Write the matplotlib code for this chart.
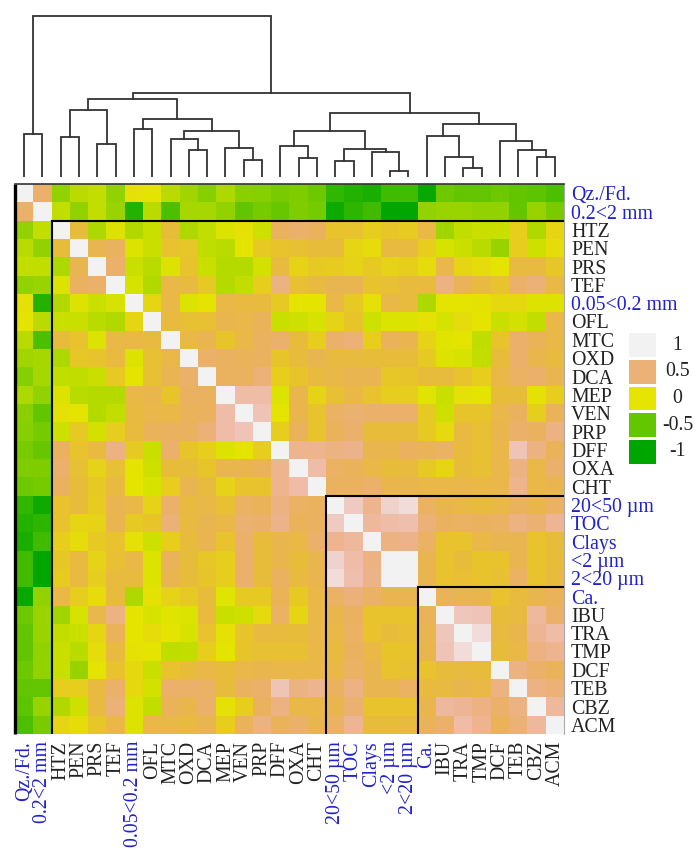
import matplotlib
matplotlib.use('Agg')
import matplotlib.pyplot as plt
from matplotlib.colors import LinearSegmentedColormap, hsv_to_rgb
import numpy as np

labels = ['Qz./Fd.', '0.2<2 mm', 'HTZ', 'PEN', 'PRS', 'TEF', '0.05<0.2 mm', 'OFL', 'MTC', 'OXD',
          'DCA', 'MEP', 'VEN', 'PRP', 'DFF', 'OXA', 'CHT', '20<50 µm', 'TOC', 'Clays',
          '<2 µm', '2<20 µm', 'Ca.', 'IBU', 'TRA', 'TMP', 'DCF', 'TEB', 'CBZ', 'ACM']
blue_labels = ['Qz./Fd.', '0.2<2 mm', '0.05<0.2 mm', '20<50 µm', 'TOC', 'Clays', '<2 µm', '2<20 µm', 'Ca.']

# upper triangle of the correlation matrix, each row starts right after the diagonal
upper = [
    [.45, -.3, -.15, -.12, -.3, .03, 0, -.15, -.25, -.35, -.2, -.33, -.35, -.4, -.38, -.45, -.72, -.8, -.85, -.65, -.65, -.95, -.45, -.5, -.5, -.45, -.5, -.52, -.6],
    [-.12, -.3, -.12, -.27, -.8, -.15, -.6, -.22, -.22, -.3, -.5, -.42, -.48, -.38, -.42, -.92, -.75, -.65, -.98, -.98, -.3, -.27, -.27, -.3, -.3, -.5, -.28, -.4],
    [.25, -.2, -.03, -.18, -.1, .25, -.2, -.12, -.03, .03, -.08, .4, .45, .4, .2, .2, .12, .17, .14, .3, -.25, -.12, -.1, -.1, .12, -.18, .08],
    [.35, .4, -.03, -.1, .2, .17, -.13, -.15, 0, .15, .2, .22, .25, .25, .08, .05, .28, .28, .13, -.05, -.1, -.15, -.28, .13, -.08, .05],
    [.45, -.1, -.15, -.03, .2, -.1, -.17, -.17, -.06, .28, .1, .15, .14, .1, .15, .1, .12, .05, .32, .08, .05, 0, .28, .28, .17],
    [-.05, -.18, .3, .28, .15, -.17, -.12, .13, .55, .22, .28, .35, .35, .2, .22, .27, .27, .55, .38, .28, .2, .45, .5, .3],
    [.08, .3, -.03, 0, .3, .28, .27, .15, 0, 0, .3, .15, .03, .3, .27, -.2, 0, 0, .02, .07, .07, -.03, -.03],
    [.28, .22, .22, .33, .32, .38, -.1, -.08, -.05, .1, .18, -.08, -.03, -.03, .02, -.05, .05, 0, -.1, -.07, -.12, .3],
    [.3, .35, .18, .3, .4, .45, .25, .13, .45, .5, .12, .38, .35, .1, -.02, 0, -.13, .2, .45, .38, .3],
    [.45, .4, .38, .4, .18, .25, .35, .28, .28, .25, .25, .25, .15, -.03, -.05, -.12, .25, .45, .33, .28],
    [.4, .4, .5, .12, .18, .27, .3, .35, .35, .17, .18, .25, .27, .2, .12, .3, .42, .45, .35],
    [.7, .7, -.03, .33, .1, .22, .3, .2, .13, .13, -.02, -.1, .03, 0, .25, .25, .03, .12],
    [.75, 0, .33, .2, .42, .48, .45, .45, .45, .15, -.08, .18, .18, .32, .4, .12, .38],
    [.13, .38, .2, .38, .45, .25, .25, .25, .15, .06, .28, .22, .33, .45, .4, .55],
    [.6, .6, .55, .58, .33, .33, .4, .37, .42, .27, .22, .32, .75, .55, .38],
    [.7, .42, .38, .3, .25, .27, .15, .08, .25, .22, .32, .55, .3, .45],
    [.4, .4, .45, .33, .33, .3, .3, .32, .3, .32, .6, .3, .33],
    [.8, .6, .85, .9, .42, .33, .3, .28, .3, .4, .33, .42],
    [.65, .7, .72, .5, .4, .42, .4, .42, .55, .48, .62],
    [.55, .58, .42, .2, .2, .3, .35, .35, .2, .25],
    [1.0, .35, .2, .25, .18, .2, .35, .2, .25],
    [.35, .2, .23, .2, .22, .42, .2, .27],
    [.38, .35, .33, .2, .27, .33, .38],
    [.78, .75, .25, .28, .65, .45],
    [.9, .28, .33, .62, .7],
    [.25, .3, .55, .6],
    [.55, .45, .38],
    [.55, .5],
    [.65],
]

# dendrogram merges, ids >= 30 point to an earlier merge like a linkage table
merge_left = [0, 2, 4, 31, 6, 9, 8, 12, 11, 36, 34, 33, 15, 14, 17, 20, 19, 44, 43, 24, 23, 22, 28, 27, 26, 51, 48, 41, 30]
merge_right = [1, 3, 5, 32, 7, 10, 35, 13, 37, 38, 39, 40, 16, 42, 18, 21, 45, 46, 47, 25, 49, 50, 29, 52, 53, 54, 55, 56, 57]
merge_height = [43, 40, 33, 67, 48, 27, 38, 17, 29, 46, 58, 78, 19, 31, 16, 6, 25, 28, 46, 9, 20, 41, 20, 27, 36, 53, 64, 84, 161]

cluster_edges = [2, 17, 22]
legend_values = [1, 0.5, 0, -0.5, -1]

n = len(labels)
corr = np.eye(n)
for i, row in enumerate(upper):
    for j, v in enumerate(row):
        corr[i, i + 1 + j] = v
        corr[i + 1 + j, i] = v

# same ramp as R terrain.colors
steps = np.linspace(0, 1, 12)
low = [hsv_to_rgb((1/3 - t/6, 1, 0.65 + 0.25*t)) for t in steps]
high = [hsv_to_rgb((1/6*(1 - t), 1 - t, 0.9 + 0.05*t)) for t in steps[1:]]
terrain = LinearSegmentedColormap.from_list('terrain_r', low + high)

W, H = 697.0, 850.0
def px_axes(x0, y0, x1, y1):
    return fig.add_axes([x0/W, 1 - y1/H, (x1 - x0)/W, (y1 - y0)/H])

fig = plt.figure(figsize=(6.97, 8.5), dpi=100)
plt.rcParams['font.family'] = ['Liberation Serif', 'DejaVu Serif']
text_blue = '#2222cc'
text_dark = '#222222'
font_size = 14.3

# heatmap
ax = px_axes(15, 184, 564, 734)
ax.imshow(corr, cmap=terrain, vmin=-1, vmax=1, aspect='auto', interpolation='nearest')
ax.set_xlim(-0.5, n - 0.5)
ax.set_ylim(n - 0.5, -0.5)
ax.set_xticks(range(n))
ax.set_yticks(range(n))
ax.set_xticklabels(labels, rotation=90, fontsize=font_size)
ax.set_yticklabels(labels, fontsize=font_size)
ax.yaxis.tick_right()
ax.tick_params(length=0, pad=5)
for tick in ax.get_xticklabels() + ax.get_yticklabels():
    tick.set_color(text_blue if tick.get_text() in blue_labels else text_dark)
for side in ax.spines:
    ax.spines[side].set_visible(False)
ax.spines['top'].set_visible(True)
ax.spines['top'].set_color('#333333')
ax.spines['top'].set_linewidth(1.2)
ax.spines['right'].set_visible(True)
ax.spines['right'].set_color('#aaaaaa')
ax.spines['right'].set_linewidth(0.8)

# cluster outlines
ax.plot([-0.5, -0.5], [-0.5, n - 0.5], color='black', lw=2.4, clip_on=False, solid_capstyle='butt')
for edge in cluster_edges:
    ax.plot([edge - 0.5, edge - 0.5, n - 0.5], [n - 0.5, edge - 0.5, edge - 0.5],
            color='black', lw=1.5, solid_joinstyle='miter', solid_capstyle='butt')

# dendrogram
dend = px_axes(15, 0, 564, 177)
dend.set_xlim(-0.5, n - 0.5)
dend.set_ylim(0, 177)
dend.axis('off')
pos = {i: (float(i), 0.0) for i in range(n)}
for k, (a, b, h) in enumerate(zip(merge_left, merge_right, merge_height)):
    xa, ya = pos[a]
    xb, yb = pos[b]
    dend.plot([xa, xa, xb, xb], [ya, h, h, yb], color='#333333', lw=1.3, solid_joinstyle='miter')
    mid = (xa + xb)/2
    # the big right branch hangs a bit off centre in the original
    if n + k == 56:
        mid += 0.3
    pos[n + k] = (mid, h)

# colour key
key = px_axes(629, 332, 656, 465)
key.set_xlim(0, 1)
key.set_ylim(len(legend_values) - 0.5, -0.5)
key.axis('off')
key.barh(range(len(legend_values)), 1, height=0.89,
         color=[terrain((v + 1)/2) for v in legend_values])
for i, v in enumerate(legend_values):
    key.text(1.8, i, f'{v:g}', ha='center', va='center', fontsize=font_size, color=text_dark, clip_on=False)

fig.savefig('out.png', dpi=100)
